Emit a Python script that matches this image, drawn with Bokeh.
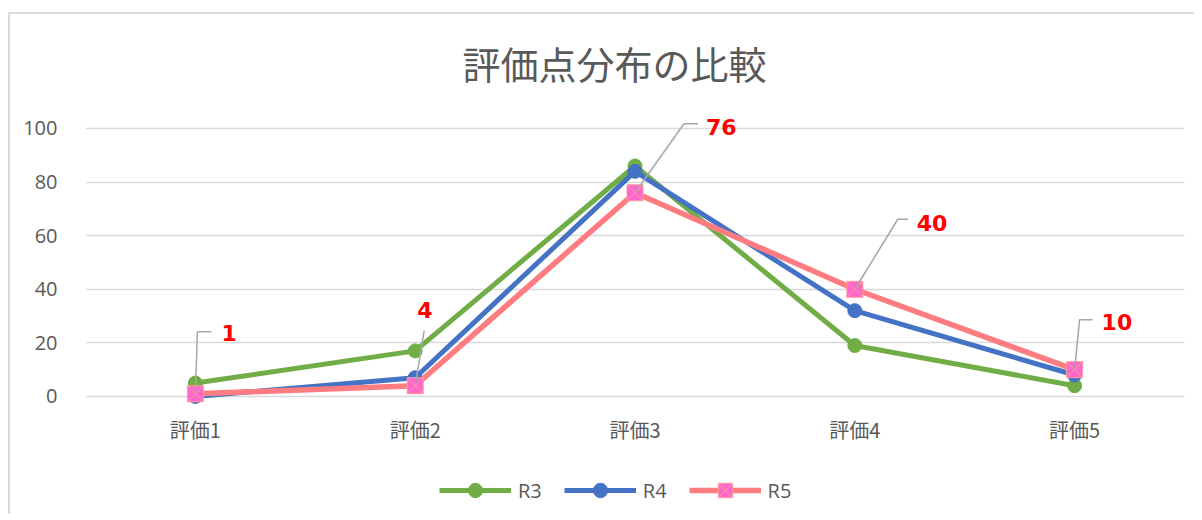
from bokeh.plotting import figure
from bokeh.layouts import column
from bokeh.models import (FactorRange, Range1d, FixedTicker, Label, Legend, LegendItem)
from bokeh.core.properties import value
from bokeh.embed import file_html
from bokeh.resources import INLINE

categories = ["評価1", "評価2", "評価3", "評価4", "評価5"]
r3 = [5, 17, 86, 19, 4]
r4 = [0, 7, 84, 32, 8]
r5 = [1, 4, 76, 40, 10]
series_names = ["R3", "R4", "R5"]
y_ticks = [0, 20, 40, 60, 80, 100]
title_text = "評価点分布の比較"

# styles
green = "#70AD47"
blue = "#4472C4"
pink_line = "#FF7C80"
pink_fill = "#FF66CC"
pink_x = "#FF9C9C"
gray_text = "#595959"
grid_col = "#D9D9D9"

W = 1184
# ---- title strip ----
TH = 90
tf = figure(width=W, height=TH, x_range=Range1d(0, W), y_range=Range1d(0, TH),
            output_backend="svg", toolbar_location=None, x_axis_type=None, y_axis_type=None,
            min_border=0)
tf.outline_line_color = None
tf.grid.visible = False
tf.add_layout(Label(x=570, y=TH - 48, text=title_text, text_font="Noto Sans CJK JP",
                    text_font_size="38px", text_color=gray_text,
                    text_align="center", text_baseline="middle"))

# ---- main chart ----
ML, MR, MT = 75, 10, 5
frame_h = 295
H = 356
MB = H - MT - frame_h
px_per_y = 2.68
y0 = -3
y1 = y0 + frame_h / px_per_y

p = figure(width=W, height=H, x_range=FactorRange(*categories), y_range=Range1d(y0, y1),
           output_backend="svg", toolbar_location=None,
           min_border_left=ML, min_border_right=MR, min_border_top=MT, min_border_bottom=MB)
p.outline_line_color = None
p.xgrid.grid_line_color = None
p.ygrid.grid_line_color = grid_col
p.ygrid.grid_line_width = 1.5
p.yaxis.ticker = FixedTicker(ticks=y_ticks)
for ax in (p.xaxis[0], p.yaxis[0]):
    ax.axis_line_color = None
    ax.major_tick_line_color = None
    ax.minor_tick_line_color = None
    ax.major_label_text_color = gray_text
    ax.major_label_text_font_size = "20px"
p.yaxis.major_label_text_font = "Open Sans"
p.yaxis.major_label_standoff = 22
p.xaxis.major_label_text_font = "Noto Sans CJK JP"
p.xaxis.major_label_standoff = 4

px_per_x = (W - ML - MR) / len(categories)

series = [(r3, green, green, green, "circle", 14, 5),
          (r4, blue, blue, blue, "circle", 14, 5),
          (r5, pink_line, pink_fill, pink_x, "square_x", 16, 5.5)]
for vals, lc, fc, mc, mk, sz, lw in series:
    p.line(categories, vals, line_color=lc, line_width=lw)
    p.scatter(categories, vals, marker=mk, size=sz, fill_color=fc, line_color=mc)

# data label leader lines (pixel offsets from each R5 point)
elbow_dx = [2, 9, 49, 43, 5]
elbow_dy = [-62, -55, -69, -70, -50]
end_dx = [16, 9, 63, 53, 18]
xs, ys = [], []
for i, v in enumerate(r5):
    cx = i + 0.5
    xs.append([cx, cx + elbow_dx[i] / px_per_x, cx + end_dx[i] / px_per_x])
    ys.append([v, v - elbow_dy[i] / px_per_y, v - elbow_dy[i] / px_per_y])
p.multi_line(xs, ys, line_color="#A6A6A6", line_width=1.5)

lab_dx = [26, 2, 71, 62, 27]
lab_dy = [-61, -76, -66, -66, -48]
p.text(x=categories, y=r5, text=[str(v) for v in r5], x_offset=lab_dx, y_offset=lab_dy,
       text_color="#FF0000", text_font=value("DejaVu Sans"), text_font_style="bold",
       text_font_size="22px", text_align="left", text_baseline="middle")

# ---- legend strip ----
lf = figure(width=W, height=54, x_range=Range1d(0, 1), y_range=Range1d(0, 1),
            output_backend="svg", toolbar_location=None, x_axis_type=None, y_axis_type=None,
            min_border=0)
lf.outline_line_color = None
lf.grid.visible = False
items = []
for name, (vals, lc, fc, mc, mk, sz, lw) in zip(series_names, series):
    ln = lf.line([-10, -9], [-10, -9], line_color=lc, line_width=lw)
    sc = lf.scatter([-10], [-10], marker=mk, size=sz, fill_color=fc, line_color=mc)
    items.append(LegendItem(label=name, renderers=[ln, sc]))
legend = Legend(items=items, orientation="horizontal", location=(354, 6),
                glyph_width=72, glyph_height=36, label_standoff=7, spacing=22,
                padding=0, margin=0, border_line_color=None, background_fill_alpha=0,
                label_text_font="Open Sans", label_text_font_size="20px",
                label_text_color=gray_text)
lf.add_layout(legend)

layout = column(tf, p, lf, spacing=0)
layout.styles = {"margin-left": "8px", "margin-top": "12px",
                 "border-left": "2px solid #D9D9D9", "border-top": "2px solid #D9D9D9"}

open("out.html", "w").write(file_html(layout, INLINE))
